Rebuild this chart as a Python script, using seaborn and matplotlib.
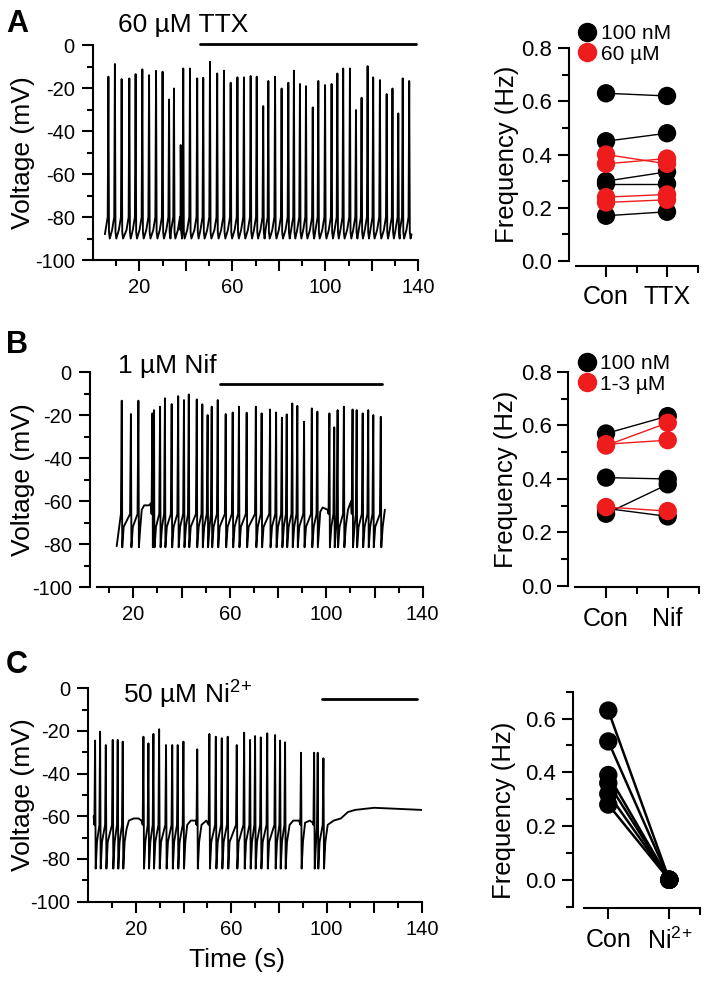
import pandas as pd
import matplotlib
matplotlib.use("Agg")
import matplotlib.pyplot as plt
import seaborn as sns
from matplotlib.lines import Line2D

RED = "#ee1c1c"

# ---- Panel A trace (spike times in s, spike peaks in mV) ----
a_spike_t = [6.7, 9.5, 12.4, 15.7, 18.4, 21.3, 24.2, 27.2, 30.0, 32.8, 34.9, 37.8, 38.9,
             41.8, 44.9, 47.5, 50.4, 53.5, 56.4, 59.3, 62.2, 65.0, 67.9, 70.5, 73.3, 75.5,
             78.4, 81.2, 84.1, 86.5, 89.1, 91.7, 94.6, 97.0, 99.9, 102.7, 105.2, 107.7,
             110.6, 113.2, 115.6, 118.2, 120.6, 123.5, 126.4, 128.9, 131.4, 133.3, 136.1]
a_spike_v = [-14.7, -8.8, -15.8, -15.5, -13.5, -11.3, -14.0, -12.0, -12.4, -25.3, -20.2, -46.5, -10.9,
             -10.9, -15.5, -15.2, -7.8, -13.2, -11.9, -17.5, -15.0, -15.0, -14.4, -14.7, -28.4, -16.7,
             -14.7, -20.2, -17.5, -11.9, -18.1, -19.1, -29.0, -16.7, -18.6, -18.1, -13.2, -10.9,
             -10.9, -30.2, -24.5, -9.8, -15.0, -16.3, -22.8, -20.2, -31.8, -15.5, -16.7]
a_rest_t = [5.2, 137.1]
a_rest_v = [-88.0, -88.0]
a_bar = [46, 139]

# ---- Panel B trace ----
b_spike_t = [15.2, 19.0, 22.1, 27.9, 28.6, 31.1, 33.1, 35.9, 38.6, 41.0, 43.0, 46.3, 48.6,
             50.8, 52.5, 55.0, 58.3, 61.2, 63.8, 67.0, 70.8, 73.2, 76.7, 79.2, 81.6, 83.6,
             85.9, 88.0, 90.8, 94.0, 96.3, 101.3, 103.3, 104.7, 107.3, 110.9, 112.6, 115.1,
             117.4, 119.5, 122.6]
b_spike_v = [-13.3, -19.5, -13.3, -19.2, -17.7, -16.1, -12.2, -14.9, -11.2, -13.0, -10.4, -12.7, -15.0,
             -20.0, -16.1, -13.0, -19.5, -18.8, -16.1, -18.9, -16.1, -19.2, -17.4, -18.8, -21.2, -19.7,
             -14.6, -15.7, -23.1, -16.9, -18.4, -19.2, -25.7, -17.7, -16.1, -17.4, -17.7, -19.2,
             -17.7, -20.0, -20.8]
b_rest_t = [13.1, 23.5, 24.5, 26.5, 27.3, 97.5, 98.5, 100.5, 109.0, 110.3, 124.3]
b_rest_v = [-81.0, -64.0, -62.0, -62.0, -61.0, -65.0, -63.0, -64.0, -64.0, -60.0, -64.0]
b_bar = [56, 123]

# ---- Panel C trace ----
c_spike_t = [2.8, 4.9, 7.3, 10.2, 12.3, 14.4, 23.1, 25.2, 27.3, 29.7, 32.6, 35.2, 37.5, 39.9,
             45.7, 50.8, 53.5, 56.0, 58.5, 62.3, 65.4, 67.9, 70.0, 72.4, 75.1, 78.4, 80.5, 82.6,
             89.3, 94.8, 96.3, 98.7]
c_spike_v = [-24.5, -20.3, -26.6, -24.2, -24.2, -25.0, -22.7, -25.8, -21.4, -19.2, -26.6, -26.6, -26.6, -25.0,
             -28.6, -21.4, -22.7, -23.4, -22.7, -26.6, -20.8, -24.2, -22.4, -23.0, -21.1, -21.9, -24.5, -25.3,
             -30.2, -30.2, -30.2, -32.8]
c_rest_t = [2.2, 16.0, 17.0, 19.0, 21.0, 22.3, 41.5, 43.0, 45.0, 47.5, 49.5, 84.5, 86.0, 88.5,
            91.0, 93.0, 94.2, 100.5, 103.0, 106.0, 109.0, 112.0, 120.0, 130.0, 140.0]
c_rest_v = [-60.0, -66.0, -62.0, -61.0, -61.0, -62.0, -64.0, -62.0, -62.0, -64.0, -62.0, -64.0, -62.0, -62.0,
            -63.0, -62.0, -63.0, -64.0, -62.0, -61.0, -58.0, -57.0, -56.0, -56.5, -57.0]
c_bar = [98, 138]

# ---- Frequency data (Hz), paired control vs drug ----
a_conditions = ["Con", "TTX"]
a_black_con = [0.63, 0.45, 0.30, 0.29, 0.17]
a_black_drug = [0.62, 0.48, 0.335, 0.29, 0.185]
a_red_con = [0.40, 0.365, 0.24, 0.22]
a_red_drug = [0.365, 0.385, 0.25, 0.23]
a_groups = ["100 nM", "60 \u00b5M"]

b_conditions = ["Con", "Nif"]
b_black_con = [0.57, 0.405, 0.27, 0.29]
b_black_drug = [0.635, 0.40, 0.38, 0.26]
b_red_con = [0.525, 0.53, 0.295]
b_red_drug = [0.61, 0.545, 0.28]
b_groups = ["100 nM", "1-3 \u00b5M"]

c_conditions = ["Con", r"Ni$^{2\!+}$"]
c_con = [0.63, 0.515, 0.39, 0.36, 0.32, 0.28]
c_drug = [0.0, 0.0, 0.0, 0.0, 0.0, 0.0]


def build_trace(spike_t, spike_v, rest_t, rest_v, pre, post):
    """Join spike peaks and resting points into one voltage trace"""
    pts = list(zip(rest_t, rest_v))
    for t, v in zip(spike_t, spike_v):
        pts += [(t + dt, dv) for dt, dv in pre]
        pts.append((t, v))
        pts += [(t + dt, dv) for dt, dv in post]
    pts.sort(key=lambda p: p[0])
    return pd.DataFrame(pts, columns=["time", "voltage"])


def paired_frame(con_vals, drug_vals, group, start_id=0):
    rows = []
    for i, (c, d) in enumerate(zip(con_vals, drug_vals)):
        rows.append({"pair": start_id + i, "group": group, "pos": 0, "freq": c})
        rows.append({"pair": start_id + i, "group": group, "pos": 1, "freq": d})
    return pd.DataFrame(rows)


def style_trace_axis(ax, xlim, label_x, show_xlabel=False):
    ax.set_xlim(*xlim)
    ax.set_ylim(-100, 0)
    ax.set_yticks(range(-100, 1, 20))
    ax.set_yticks(range(-90, 0, 20), minor=True)
    ax.set_xticks(range(20, 141, 20))
    ax.set_xticklabels(["20", "", "60", "", "100", "", "140"])
    ax.set_xticks(range(10, 141, 20), minor=True)
    ax.spines[["top", "right"]].set_visible(False)
    ax.tick_params(which="major", length=8, width=1.5, labelsize=14.5, pad=5)
    ax.tick_params(which="minor", length=4.5, width=1.5)
    ax.set_ylabel("Voltage (mV)", fontsize=19)
    ax.yaxis.set_label_coords(label_x, 0.5)
    if show_xlabel:
        ax.set_xlabel("Time (s)", fontsize=19)
        ax.xaxis.set_label_coords(0.446, -0.215)
    else:
        ax.set_xlabel("")


def draw_trace(ax, df, bar, bar_level):
    sns.lineplot(data=df, x="time", y="voltage", estimator=None, sort=False,
                 color="black", linewidth=1.35, ax=ax)
    ax.plot(bar, [bar_level, bar_level], color="black", linewidth=2.0, clip_on=False)


def draw_pairs(ax, frames, palette, lw=1.0):
    df = pd.concat(frames, ignore_index=True)
    sns.lineplot(data=df, x="pos", y="freq", hue="group", units="pair", estimator=None,
                 palette=palette, linewidth=lw, legend=False, ax=ax)
    for grp in palette:
        sns.scatterplot(data=df[df["group"] == grp], x="pos", y="freq", color=palette[grp],
                        s=175, edgecolor="none", legend=False, ax=ax, zorder=3)


def style_pair_axis(ax, conditions, ylim, yticks, yminor, xlim, xminor, left_off, bottom_off, label_xy):
    ax.set_xlim(*xlim)
    ax.set_ylim(*ylim)
    ax.set_xticks([0, 1])
    ax.set_xticklabels(conditions)
    ax.set_xticks(xminor, minor=True)
    ax.set_yticks(yticks)
    ax.set_yticklabels([f"{v:.1f}" for v in yticks])
    ax.set_yticks(yminor, minor=True)
    ax.spines[["top", "right"]].set_visible(False)
    ax.spines["left"].set_position(("outward", left_off))
    ax.spines["bottom"].set_position(("outward", bottom_off))
    ax.tick_params(axis="y", which="major", length=8, width=1.5, labelsize=16, pad=4)
    ax.tick_params(axis="x", which="major", length=8, width=1.5, labelsize=18, pad=6)
    ax.tick_params(which="minor", length=5, width=1.5)
    ax.set_xlabel("")
    ax.set_ylabel("Frequency (Hz)", fontsize=18.5)
    ax.yaxis.set_label_coords(*label_xy)


def add_legend(ax, groups, colors, x_px, y_px, fig):
    handles = [Line2D([], [], marker="o", linestyle="none", color=c, markersize=13) for c in colors]
    ax.legend(handles, groups, loc="center left", frameon=False, fontsize=15,
              bbox_to_anchor=(x_px / 708, 1 - y_px / 982), bbox_transform=fig.transFigure,
              borderpad=0, borderaxespad=0, handlelength=0.8, handletextpad=0.25,
              labelspacing=0.05)


def make_figure():
    sns.set_style("ticks")
    plt.rcParams["font.family"] = ["Liberation Sans", "DejaVu Sans"]
    plt.rcParams["mathtext.fontset"] = "custom"
    plt.rcParams["mathtext.rm"] = "Liberation Sans"
    plt.rcParams["mathtext.default"] = "regular"
    plt.rcParams["axes.unicode_minus"] = False
    plt.rcParams["axes.linewidth"] = 1.5
    plt.rcParams["axes.edgecolor"] = "black"
    plt.rcParams["axes.labelcolor"] = "black"
    plt.rcParams["text.color"] = "black"
    plt.rcParams["xtick.color"] = "black"
    plt.rcParams["ytick.color"] = "black"
    plt.rcParams["xtick.labelcolor"] = "black"
    plt.rcParams["ytick.labelcolor"] = "black"

    fig = plt.figure(figsize=(7.08, 9.82), dpi=100)

    # Voltage traces
    ax_a = fig.add_axes([0.1311, 0.7352, 0.4597, 0.2189])
    ax_b = fig.add_axes([0.1270, 0.4022, 0.4701, 0.2189])
    ax_c = fig.add_axes([0.1249, 0.0818, 0.4708, 0.2173])

    trace_a = build_trace(a_spike_t, a_spike_v, a_rest_t, a_rest_v,
                          pre=[(-1.2, -86), (-0.3, -80)], post=[(0.25, -87), (0.6, -90)])
    trace_b = build_trace(b_spike_t, b_spike_v, b_rest_t, b_rest_v,
                          pre=[(-0.35, -66)], post=[(0.2, -81.5), (0.8, -72)])
    trace_c = build_trace(c_spike_t, c_spike_v, c_rest_t, c_rest_v,
                          pre=[(-0.3, -64)], post=[(0.25, -84.5), (0.8, -72)])

    draw_trace(ax_a, trace_a, a_bar, 0.4)
    draw_trace(ax_b, trace_b, b_bar, -5.6)
    draw_trace(ax_c, trace_c, c_bar, -5.0)

    style_trace_axis(ax_a, (0, 140), -0.178)
    style_trace_axis(ax_b, (2, 140), -0.165)
    ax_b.spines["bottom"].set_bounds(5, 140)
    style_trace_axis(ax_c, (0, 140), -0.160, show_xlabel=True)

    # Frequency pairs
    ax_ar = fig.add_axes([0.8129, 0.7342, 0.1723, 0.2169])
    ax_br = fig.add_axes([0.8124, 0.4033, 0.1743, 0.2179])
    ax_cr = fig.add_axes([0.8247, 0.0767, 0.1637, 0.2189])

    pal_a = {a_groups[0]: "black", a_groups[1]: RED}
    draw_pairs(ax_ar, [paired_frame(a_black_con, a_black_drug, a_groups[0]),
                       paired_frame(a_red_con, a_red_drug, a_groups[1], 100)], pal_a)
    pal_b = {b_groups[0]: "black", b_groups[1]: RED}
    draw_pairs(ax_br, [paired_frame(b_black_con, b_black_drug, b_groups[0]),
                       paired_frame(b_red_con, b_red_drug, b_groups[1], 100)], pal_b)
    draw_pairs(ax_cr, [paired_frame(c_con, c_drug, "all")], {"all": "black"}, lw=1.8)

    style_pair_axis(ax_ar, a_conditions, (0, 0.8), [0.0, 0.2, 0.4, 0.6, 0.8], [0.1, 0.3, 0.5, 0.7],
                    (-0.5, 1.5), [0.5, 1.5], 5, 3.6, (-0.463, 0.5))
    style_pair_axis(ax_br, b_conditions, (0, 0.8), [0.0, 0.2, 0.4, 0.6, 0.8], [0.1, 0.3, 0.5, 0.7],
                    (-0.5, 1.5), [0.5, 1.5], 5, 1, (-0.464, 0.5))
    style_pair_axis(ax_cr, c_conditions, (-0.1, 0.7), [0.0, 0.2, 0.4, 0.6], [-0.1, 0.1, 0.3, 0.5, 0.7],
                    (-0.4, 1.5), [1.5], 8, 1, (-0.586, 0.45))

    add_legend(ax_ar, a_groups, ["black", RED], 578.7, 44, fig)
    add_legend(ax_br, b_groups, ["black", RED], 578.4, 374, fig)

    # Drug labels and panel letters
    fig.text(118 / 708, 1 - 32 / 982, "60 \u00b5M TTX", fontsize=19, va="baseline")
    fig.text(118 / 708, 1 - 373 / 982, "1 \u00b5M Nif", fontsize=19, va="baseline")
    fig.text(123 / 708, 1 - 704 / 982, "50 \u00b5M Ni$^{2\\!+}$", fontsize=19, va="baseline")
    for letter, ypx in [("A", 32), ("B", 353), ("C", 673)]:
        fig.text(6 / 708, 1 - ypx / 982, letter, fontsize=22, fontweight="bold", va="baseline")

    fig.savefig("out.png", dpi=100)
    plt.close(fig)


if __name__ == "__main__":
    make_figure()
